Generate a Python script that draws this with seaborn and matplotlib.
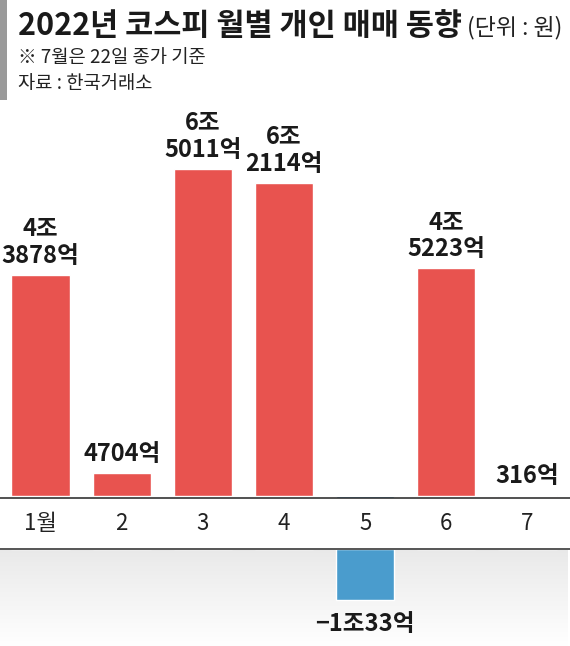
import numpy as np
import matplotlib
matplotlib.use('Agg')
import matplotlib.pyplot as plt
from matplotlib.colors import LinearSegmentedColormap
from matplotlib.lines import Line2D
from matplotlib.patches import Rectangle
import seaborn as sns

# 월별 개인 순매수 (단위: 억원)
months = ['1월', '2', '3', '4', '5', '6', '7']
values = [43878, 4704, 65011, 62114, -10033, 45223, 316]
labels = ['4조\n3878억', '4704억', '6조\n5011억', '6조\n2114억', '−1조33억', '4조\n5223억', '316억']

red = '#e8534f'
blue = '#4a9ccd'

sns.set_style('white')
plt.rcParams['font.family'] = ['Noto Sans CJK KR', 'DejaVu Sans']

W, H = 570, 646
fig = plt.figure(figsize=(W / 100, H / 100), dpi=100)

scale = 50.4  # px per 1조
base_top = 498
base_bot = 549
top_start = 105

ax = fig.add_axes([0, (H - base_top) / H, 568 / W, (base_top - top_start) / H])
axb = fig.add_axes([0, 0, 568 / W, (H - base_bot) / H])

jo = [v / 10000 for v in values]
sign = ['pos' if v >= 0 else 'neg' for v in values]

for a in (ax, axb):
    sns.barplot(x=months, y=jo, hue=sign, palette={'pos': red, 'neg': blue},
                dodge=False, width=0.72, saturation=1, legend=False, ax=a, zorder=3)
    a.set_xlim(-0.5, 6.5)
    a.set_xlabel('')
    a.set_ylabel('')
    a.set_yticks([])
    for s in a.spines.values():
        s.set_visible(False)
    a.patch.set_alpha(0)

ax.set_ylim(-0.035, (base_top - top_start) / scale - 0.035)
axb.set_ylim(-(H - base_bot) / scale, 0)

ax.tick_params(axis='x', length=0, labelsize=16, pad=10, labelcolor='#222222')
axb.set_xticks([])

# 하단 배경 그라데이션
grad = np.linspace(0, 1, 100).reshape(-1, 1)
cmap = LinearSegmentedColormap.from_list('g', ['#e9e9e9', '#ffffff'])
axb.imshow(grad, extent=[0, 1, 0, 1], transform=axb.transAxes, cmap=cmap,
           aspect='auto', zorder=0, origin='upper')

for i, (v, lab) in enumerate(zip(jo, labels)):
    if v >= 0:
        ax.annotate(lab, (i, v), xytext=(0, 5), textcoords='offset points',
                    ha='center', va='bottom', fontsize=17, fontweight='bold',
                    color='#1a1a1a', linespacing=1.15, annotation_clip=False)
    else:
        axb.annotate(lab, (i, v), xytext=(0, -9), textcoords='offset points',
                     ha='center', va='top', fontsize=17, fontweight='bold',
                     color='#1a1a1a', annotation_clip=False)

fig.add_artist(Line2D([0, 1], [(H - base_top) / H] * 2, color='#333333', lw=1.2))
fig.add_artist(Line2D([0, 1], [(H - base_bot) / H] * 2, color='#555555', lw=1.4))

# 제목 영역
fig.add_artist(Rectangle((0, 1 - 100 / H), 7 / W, 100 / H, color='#9a9a9a', lw=0))
fig.text(18 / W, 1 - 35 / H, '2022년 코스피 월별 개인 매매 동향', fontsize=22,
         fontweight='bold', color='#1a1a1a', va='baseline')
fig.text(467 / W, 1 - 34 / H, '(단위 : 원)', fontsize=16.5, color='#222222', va='baseline')
fig.text(18 / W, 1 - 57 / H, '※ 7월은 22일 종가 기준', fontsize=13.5, color='#222222', va='center')
fig.text(18 / W, 1 - 84 / H, '자료 : 한국거래소', fontsize=13.5, color='#222222', va='center')

fig.savefig('out.png', dpi=100)
